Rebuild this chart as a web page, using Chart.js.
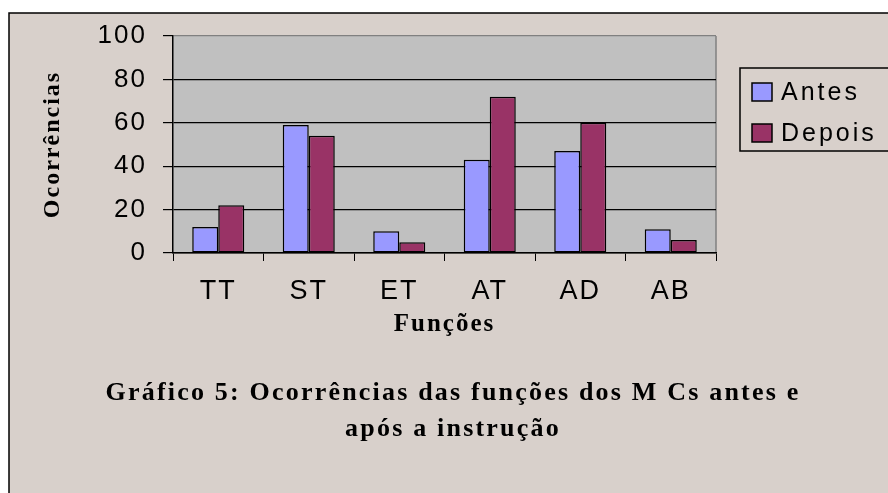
<!DOCTYPE html>
<html>
<head>
<meta charset="utf-8">
<script src="https://cdn.jsdelivr.net/npm/chart.js@4.4.1/dist/chart.umd.min.js"></script>
<style>
  html, body { margin: 0; padding: 0; background: #fff; }
  canvas { display: block; }
</style>
</head>
<body>
<canvas id="chart" width="888" height="493"></canvas>
<script>
document.addEventListener("DOMContentLoaded", function () {

    'use strict';

    var categories = ['TT', 'ST', 'ET', 'AT', 'AD', 'AB'];
    var antes = [12, 59, 10, 43, 47, 11];
    var depois = [22, 54, 5, 72, 60, 6];
    var seriesNames = ['Antes', 'Depois'];
    var seriesColors = ['#9999ff', '#993366'];
    var titleLines = ['Gráfico 5: Ocorrências das funções dos M Cs antes e', 'após a instrução'];

    var bg = '#d8d0cb';
    var serif = '"Liberation Serif", "Times New Roman", serif';
    var sans = '"Liberation Sans", Arial, sans-serif';

    // frame, plot background, legend box and caption
    var decor = {
        id: 'decor',
        beforeDraw: function (chart) {
            var c = chart.ctx, a = chart.chartArea;
            c.save();
            c.fillStyle = '#fff';
            c.fillRect(0, 0, chart.width, chart.height);
            c.fillStyle = bg;
            c.fillRect(9, 13, chart.width, chart.height);
            c.strokeStyle = '#000';
            c.lineWidth = 1.5;
            c.beginPath();
            c.moveTo(9, chart.height + 2);
            c.lineTo(9, 13);
            c.lineTo(chart.width + 2, 13);
            c.stroke();
            c.fillStyle = '#c0c0c0';
            c.fillRect(a.left, a.top, a.right - a.left, a.bottom - a.top);
            c.strokeStyle = '#808080';
            c.lineWidth = 1.5;
            c.beginPath();
            c.moveTo(a.right, a.top);
            c.lineTo(a.right, a.bottom);
            c.stroke();
            c.restore();
            // the old chart text is spaced out a little
            c.letterSpacing = '2px';
        },
        afterDraw: function (chart) {
            var c = chart.ctx;
            c.letterSpacing = '0px';
            c.save();
            // legend
            c.strokeStyle = '#000';
            c.lineWidth = 1.5;
            c.strokeRect(740, 68, 160, 83);
            c.font = '25px ' + sans;
            c.letterSpacing = '3px';
            c.textBaseline = 'middle';
            c.textAlign = 'left';
            chart.data.datasets.forEach(function (ds, i) {
                var y = 92 + i * 41;
                c.fillStyle = ds.backgroundColor;
                c.fillRect(752, y - 9, 20, 18);
                c.strokeRect(752, y - 9, 20, 18);
                c.fillStyle = '#000';
                c.fillText(ds.label, 781, y + 1);
            });
            // caption
            c.font = 'bold 26px ' + serif;
            c.letterSpacing = '2.2px';
            c.textAlign = 'center';
            titleLines.forEach(function (t, i) {
                c.fillText(t, 453, 393 + i * 36);
            });
            c.restore();
        }
    };

    new Chart(document.getElementById('chart'), {
        type: 'bar',
        data: {
            labels: categories,
            datasets: [
                { label: seriesNames[0], data: antes, backgroundColor: seriesColors[0] },
                { label: seriesNames[1], data: depois, backgroundColor: seriesColors[1] }
            ]
        },
        options: {
            responsive: false,
            animation: false,
            layout: { padding: { left: 0, top: 36, right: 172, bottom: 149 } },
            datasets: {
                bar: {
                    categoryPercentage: 0.575,
                    barPercentage: 1,
                    borderColor: '#000',
                    borderWidth: 1.5,
                    borderSkipped: false
                }
            },
            plugins: {
                legend: { display: false },
                tooltip: { enabled: false }
            },
            scales: {
                x: {
                    grid: { display: true, drawOnChartArea: false, drawTicks: true, tickLength: 8, color: '#000', offset: true },
                    border: { color: '#000', width: 1.5 },
                    ticks: { font: { family: sans, size: 27 }, color: '#000', padding: 14 },
                    title: { display: true, text: 'Funções', color: '#000', font: { family: serif, size: 25, weight: 'bold' }, padding: 4 },
                    afterFit: function (s) { s.height = 91; }
                },
                y: {
                    min: 0,
                    max: 100,
                    ticks: { stepSize: 20, font: { family: sans, size: 26 }, color: '#000', padding: 16 },
                    grid: {
                        color: function (ctx) { return ctx.tick && ctx.tick.value === 100 ? '#808080' : '#000'; },
                        tickColor: '#000',
                        tickLength: 10,
                        lineWidth: 1.2
                    },
                    border: { color: '#000', width: 1.5 },
                    title: { display: true, text: 'Ocorrências', color: '#000', font: { family: serif, size: 24, weight: 'bold' }, padding: { top: 38, bottom: 4 } },
                    afterFit: function (s) { s.width = 173; }
                }
            }
        },
        plugins: [decor]
    });

});
</script>
</body>
</html>
